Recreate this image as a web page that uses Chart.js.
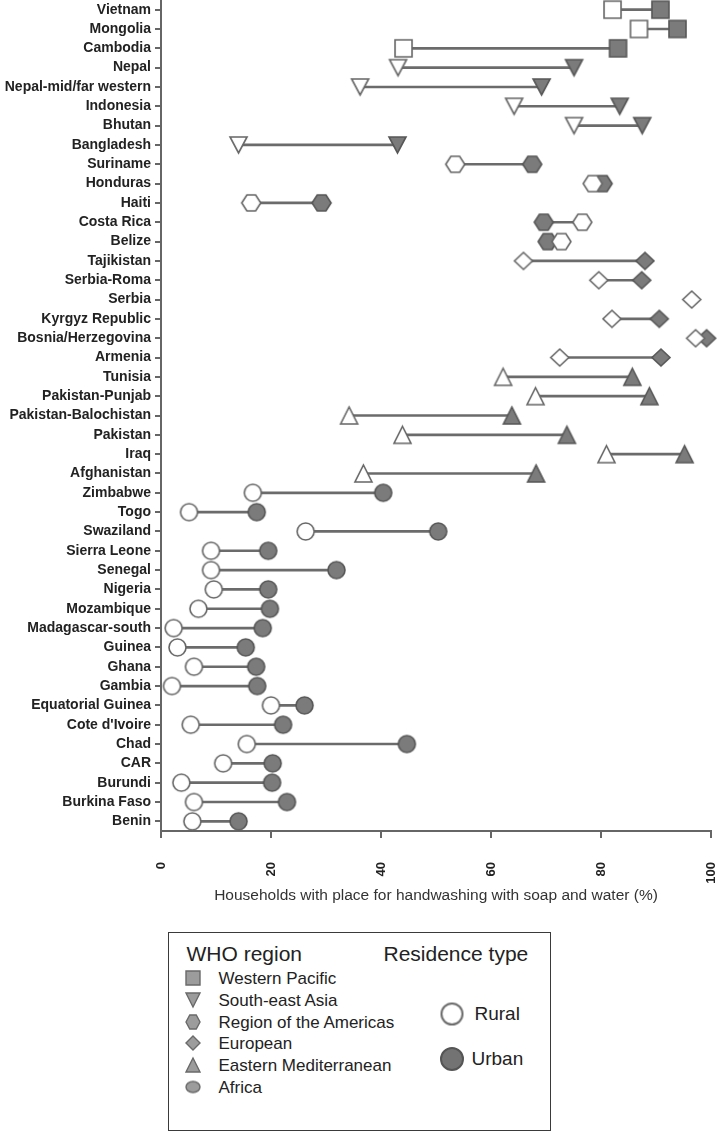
<!DOCTYPE html>
<html>
<head>
<meta charset="utf-8">
<script src="https://cdn.jsdelivr.net/npm/chart.js@4.4.1/dist/chart.umd.min.js"></script>
<style>
    body { margin: 0; background: #fff; font-family: "Liberation Sans", Arial, sans-serif; }
    #wrap { position: relative; width: 717px; height: 1133px; }
    #chart-box { position: absolute; left: 0; top: 0; width: 717px; height: 905px; }
    #legend { position: absolute; left: 168px; top: 932px; width: 381px; height: 197px; border: 1.5px solid #3a3a3a; color: #222; }
    .lg-text { position: absolute; white-space: nowrap; line-height: 1; transform: translateY(-50%); }
    .lg-mark { position: absolute; transform: translate(-50%, -50%); }
</style>
</head>
<body>
<div id="wrap">
    <div id="chart-box"><canvas id="dumbbell"></canvas></div>
    <div id="legend"></div>
</div>
<script>
const countries = [
    "Vietnam", "Mongolia", "Cambodia", "Nepal", "Nepal-mid/far western", "Indonesia", "Bhutan", "Bangladesh",
    "Suriname", "Honduras", "Haiti", "Costa Rica", "Belize",
    "Tajikistan", "Serbia-Roma", "Serbia", "Kyrgyz Republic", "Bosnia/Herzegovina", "Armenia",
    "Tunisia", "Pakistan-Punjab", "Pakistan-Balochistan", "Pakistan", "Iraq", "Afghanistan",
    "Zimbabwe", "Togo", "Swaziland", "Sierra Leone", "Senegal", "Nigeria", "Mozambique", "Madagascar-south",
    "Guinea", "Ghana", "Gambia", "Equatorial Guinea", "Cote d'Ivoire", "Chad", "CAR", "Burundi", "Burkina Faso", "Benin"
];

// WP = Western Pacific, SEA = South-east Asia, AMR = Americas, EUR = European, EMR = Eastern Med., AFR = Africa
const regions = [
    "WP", "WP", "WP", "SEA", "SEA", "SEA", "SEA", "SEA",
    "AMR", "AMR", "AMR", "AMR", "AMR",
    "EUR", "EUR", "EUR", "EUR", "EUR", "EUR",
    "EMR", "EMR", "EMR", "EMR", "EMR", "EMR",
    "AFR", "AFR", "AFR", "AFR", "AFR", "AFR", "AFR", "AFR",
    "AFR", "AFR", "AFR", "AFR", "AFR", "AFR", "AFR", "AFR", "AFR", "AFR"
];

const rural = [
    82.1, 86.9, 44.1, 43.1, 36.2, 64.2, 75.1, 14.1,
    53.5, 78.5, 16.4, 76.6, 72.8,
    65.9, 79.6, 96.5, 82.0, 97.2, 72.5,
    62.2, 68.1, 34.2, 43.9, 81.0, 36.8,
    16.7, 5.1, 26.3, 9.1, 9.1, 9.6, 6.8, 2.3,
    3.0, 6.0, 2.0, 20.0, 5.4, 15.6, 11.3, 3.7, 6.0, 5.7
];

const urban = [
    90.8, 93.9, 83.1, 75.1, 69.2, 83.4, 87.5, 43.0,
    67.5, 80.3, 29.2, 69.6, 70.3,
    88.0, 87.4, null, 90.6, 99.2, 90.9,
    85.7, 88.8, 63.8, 73.8, 95.2, 68.2,
    40.4, 17.4, 50.4, 19.5, 31.9, 19.5, 19.8, 18.5,
    15.4, 17.3, 17.5, 26.1, 22.2, 44.7, 20.3, 20.2, 22.9, 14.1
];

const xTicks = [0, 20, 40, 60, 80, 100];

const regionLegend = [
    ["WP", "Western Pacific"],
    ["SEA", "South-east Asia"],
    ["AMR", "Region of the Americas"],
    ["EUR", "European"],
    ["EMR", "Eastern Mediterranean"],
    ["AFR", "Africa"]
];

const shapeFor = { WP: "square", SEA: "down", AMR: "hex", EUR: "diamond", EMR: "up", AFR: "circle" };
const sizeFor = { square: [17, 17], down: [17, 16], hex: [19, 16], diamond: [18, 17], up: [17, 17], circle: [17, 17] };

function makeMarker(shape, fill, stroke, w, h, lw) {
    const pad = Math.ceil(lw) + 1;
    const c = document.createElement("canvas");
    c.width = w + pad * 2;
    c.height = h + pad * 2;
    const ctx = c.getContext("2d");
    ctx.translate(pad, pad);
    ctx.beginPath();
    if (shape === "square") {
        ctx.rect(0, 0, w, h);
    } else if (shape === "down") {
        ctx.moveTo(0, 0); ctx.lineTo(w, 0); ctx.lineTo(w / 2, h); ctx.closePath();
    } else if (shape === "up") {
        ctx.moveTo(w / 2, 0); ctx.lineTo(w, h); ctx.lineTo(0, h); ctx.closePath();
    } else if (shape === "hex") {
        ctx.moveTo(0, h / 2); ctx.lineTo(w * 0.27, 0); ctx.lineTo(w * 0.73, 0);
        ctx.lineTo(w, h / 2); ctx.lineTo(w * 0.73, h); ctx.lineTo(w * 0.27, h); ctx.closePath();
    } else if (shape === "diamond") {
        ctx.moveTo(w / 2, 0); ctx.lineTo(w, h / 2); ctx.lineTo(w / 2, h); ctx.lineTo(0, h / 2); ctx.closePath();
    } else {
        ctx.ellipse(w / 2, h / 2, w / 2, h / 2, 0, 0, Math.PI * 2);
    }
    ctx.fillStyle = fill;
    ctx.fill();
    ctx.lineWidth = lw;
    ctx.strokeStyle = stroke;
    ctx.stroke();
    return c;
}

function markerList(fill, stroke) {
    return regions.map(r => {
        const s = shapeFor[r];
        return makeMarker(s, fill, stroke, sizeFor[s][0], sizeFor[s][1], 1.6);
    });
}

// chart.js adds room for the outer tick labels; the reference has none
function noPadding(scale) {
    scale.paddingLeft = 0;
    scale.paddingRight = 0;
    scale.paddingTop = 0;
    scale.paddingBottom = 0;
}

function buildChart() {
    const ctx = document.getElementById("dumbbell").getContext("2d");
    const spans = rural.map((r, i) => (r == null || urban[i] == null) ? null : [r, urban[i]]);
    const tickFont = { family: "'Liberation Sans', Arial, sans-serif", weight: "bold" };

    new Chart(ctx, {
        type: "bar",
        data: {
            labels: countries,
            datasets: [
                {
                    label: "span",
                    data: spans,
                    indexAxis: "y",
                    backgroundColor: "#6b6b6b",
                    borderWidth: 0,
                    barThickness: 2,
                    order: 3
                },
                {
                    type: "line",
                    label: "Urban",
                    data: urban,
                    indexAxis: "y",
                    showLine: false,
                    pointStyle: markerList("#7b7b7b", "#575757"),
                    pointRadius: 8,
                    clip: false,
                    order: 2
                },
                {
                    type: "line",
                    label: "Rural",
                    data: rural,
                    indexAxis: "y",
                    showLine: false,
                    pointStyle: markerList("#ffffff", "#666666"),
                    pointRadius: 8,
                    clip: false,
                    order: 1
                }
            ]
        },
        options: {
            indexAxis: "y",
            responsive: true,
            maintainAspectRatio: false,
            animation: false,
            layout: { autoPadding: false, padding: { top: 0, right: 6, left: 0, bottom: 0 } },
            plugins: { legend: { display: false }, tooltip: { enabled: false } },
            scales: {
                x: {
                    type: "linear",
                    min: 0,
                    max: 100,
                    afterBuildTicks: scale => { scale.ticks = xTicks.map(v => ({ value: v })); },
                    afterFit: scale => { scale.height = 74; noPadding(scale); },
                    ticks: {
                        color: "#222",
                        font: { ...tickFont, size: 13 },
                        minRotation: 90,
                        maxRotation: 90,
                        padding: 24
                    },
                    grid: { drawOnChartArea: false, drawTicks: true, tickLength: 7, color: "#666", lineWidth: 2 },
                    border: { display: true, color: "#666", width: 2 },
                    title: {
                        display: true,
                        text: "Households with place for handwashing with soap and water (%)",
                        color: "#333",
                        font: { family: "'Liberation Sans', Arial, sans-serif", size: 15.5 },
                        padding: { top: 2, bottom: 0 }
                    }
                },
                y: {
                    type: "category",
                    offset: true,
                    afterFit: scale => { scale.width = 161; noPadding(scale); },
                    ticks: {
                        color: "#222",
                        font: { ...tickFont, size: 14 },
                        padding: 4,
                        autoSkip: false
                    },
                    grid: { offset: false, drawOnChartArea: false, drawTicks: true, tickLength: 6, color: "#666", lineWidth: 2 },
                    border: { display: true, color: "#666", width: 2 }
                }
            }
        }
    });
}

function addText(parent, text, left, top, size, extra) {
    const d = document.createElement("div");
    d.className = "lg-text";
    d.textContent = text;
    d.style.left = left + "px";
    d.style.top = top + "px";
    d.style.fontSize = size + "px";
    if (extra) Object.assign(d.style, extra);
    parent.appendChild(d);
}

function addMark(parent, canvas, cx, cy) {
    canvas.className = "lg-mark";
    canvas.style.left = cx + "px";
    canvas.style.top = cy + "px";
    parent.appendChild(canvas);
}

function buildLegend() {
    const box = document.getElementById("legend");
    const ox = 169.5, oy = 933.5;   // inner origin of the box
    addText(box, "WHO region", 187 - ox, 953 - oy, 21);
    addText(box, "Residence type", 384 - ox, 953 - oy, 21);

    const rows = [978, 1000, 1022, 1043, 1065, 1087];
    regionLegend.forEach(([key, name], i) => {
        const s = shapeFor[key];
        const w = 14, h = s === "circle" ? 11 : 14;
        addMark(box, makeMarker(s, "#9c9c9c", "#6a6a6a", w, h, 1.4), 193 - ox, rows[i] - oy);
        addText(box, name, 219 - ox, rows[i] - oy, 17);
    });

    addMark(box, makeMarker("circle", "#ffffff", "#6a6a6a", 21, 21, 2), 452 - ox, 1014 - oy);
    addText(box, "Rural", 475 - ox, 1013 - oy, 19);
    addMark(box, makeMarker("circle", "#737373", "#555555", 22, 22, 2), 452 - ox, 1059 - oy);
    addText(box, "Urban", 472 - ox, 1058 - oy, 19);
}

window.addEventListener("DOMContentLoaded", () => {
    buildChart();
    buildLegend();
});
</script>
</body>
</html>
